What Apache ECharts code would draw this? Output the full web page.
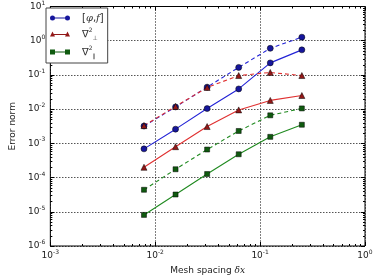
<!DOCTYPE html>
<html>
<head>
<meta charset="utf-8">
<script src="https://cdn.jsdelivr.net/npm/echarts@6/dist/echarts.min.js"></script>
<style>
    html, body { margin: 0; padding: 0; background: #fff; }
    #chart { width: 376px; height: 280px; }
</style>
</head>
<body>
<div id="chart"></div>
<script>
// mesh spacing (x) and error norms
const meshSpacing = [0.0078125, 0.015625, 0.03125, 0.0625, 0.125, 0.25];
const phiSolid = [6.9e-4, 2.6e-3, 1.04e-2, 0.039, 0.225, 0.54];
const phiDashed = [3.2e-3, 0.0116, 0.044, 0.166, 0.60, 1.27];
const perpSolid = [2.0e-4, 8.0e-4, 3.1e-3, 9.5e-3, 0.018, 0.025];
const perpDashed = [3.3e-3, 0.012, 0.043, 0.096, 0.118, 0.096];
const parSolid = [8.1e-6, 3.2e-5, 1.27e-4, 4.8e-4, 1.55e-3, 3.5e-3];
const parDashed = [4.4e-5, 1.75e-4, 6.6e-4, 2.3e-3, 6.6e-3, 0.0105];

const xMin = 1e-3, xMax = 1;
const yMin = 1e-6, yMax = 10;

const legendLabels = {
    phi: '{t|[}{i|φ}{t|,}{i|f}{t|]}',
    perp: '{t|∇}{sup|2}{sub|⊥}',
    par: '{t|∇}{sup|2}{sub|∥}'
};

const pairs = (ys) => meshSpacing.map((x, i) => [x, ys[i]]);

// minor tick positions (2..9 per decade)
const minorBetween = (lo, hi) => {
    const out = [];
    for (let d = lo; d < hi; d *= 10) {
        for (let k = 2; k <= 9; k++) out.push(+(k * d).toPrecision(3));
    }
    return out;
};
const xMinor = minorBetween(xMin, xMax).map(v => [v, yMin]);
const yMinor = minorBetween(yMin, yMax).map(v => [xMin, v]);

const FONT = 'DejaVu Sans';

const tickLabel = (value) => {
    const e = Math.round(Math.log10(value));
    return '{b|10}{s|' + e + '}';
};
const tickRich = {
    b: { fontSize: 9, lineHeight: 13, fontFamily: FONT, color: '#222' },
    s: { fontSize: 6, lineHeight: 13, verticalAlign: 'top', fontFamily: FONT, color: '#222' }
};

const colors = {
    phiLine: '#2222d6', phiMark: '#16169c',
    perpLine: '#e03030', perpMark: '#921818',
    parLine: '#208a20', parMark: '#0f5a0f'
};

const lineSeries = (name, ys, lineColor, markColor, symbol, size, dashed) => ({
    name: name,
    type: 'line',
    data: pairs(ys),
    symbol: symbol,
    symbolSize: size,
    showSymbol: true,
    z: 3,
    lineStyle: { color: lineColor, width: 1.1, type: dashed ? [4, 3] : 'solid' },
    itemStyle: { color: markColor, borderColor: '#000', borderWidth: 0.5 },
    emphasis: { disabled: true },
    animation: false
});

const minorTicks = (axis) => (params, api) => {
    const cs = params.coordSys;
    const p = api.coord([api.value(0), api.value(1)]);
    const st = { stroke: '#000', lineWidth: 1 };
    if (axis === 'x') {
        const x = Math.round(p[0]) + 0.5;
        return { type: 'group', children: [
            { type: 'line', shape: { x1: x, y1: cs.y + cs.height, x2: x, y2: cs.y + cs.height - 2 }, style: st },
            { type: 'line', shape: { x1: x, y1: cs.y, x2: x, y2: cs.y + 2 }, style: st }
        ] };
    }
    const y = Math.round(p[1]) + 0.5;
    return { type: 'group', children: [
        { type: 'line', shape: { x1: cs.x, y1: y, x2: cs.x + 2, y2: y }, style: st },
        { type: 'line', shape: { x1: cs.x + cs.width, y1: y, x2: cs.x + cs.width - 2, y2: y }, style: st }
    ] };
};

const legendItem = (name, icon, color) => ({
    name: name,
    icon: icon,
    itemStyle: { color: color, borderWidth: 0, borderColor: color },
    lineStyle: { width: 0 }
});

const chart = echarts.init(document.getElementById('chart'));

chart.setOption({
    animation: false,
    backgroundColor: '#fff',
    textStyle: { fontFamily: FONT },
    grid: {
        left: 42, right: 11, top: 3, bottom: 26,
        show: true, borderColor: '#000', borderWidth: 1, backgroundColor: 'transparent'
    },
    legend: {
        orient: 'vertical',
        left: 46, top: 8,
        padding: [5, 4, 4, 4],
        itemGap: 4,
        itemWidth: 20, itemHeight: 5,
        borderColor: '#444', borderWidth: 1,
        backgroundColor: '#fff',
        selectedMode: false,
        data: [
            legendItem('phi', 'path://M0,2.5A2.5,2.5,0,1,1,5,2.5A2.5,2.5,0,1,1,0,2.5Z M2.5,2.1H17.5V2.9H2.5Z M15,2.5A2.5,2.5,0,1,1,20,2.5A2.5,2.5,0,1,1,15,2.5Z', colors.phiMark),
            legendItem('perp', 'path://M0,5L2.5,0L5,5Z M2.5,2.6H17.5V3.4H2.5Z M15,5L17.5,0L20,5Z', colors.perpMark),
            legendItem('par', 'path://M0,0H5V5H0Z M2.5,2.1H17.5V2.9H2.5Z M15,0H20V5H15Z', colors.parMark)
        ],
        formatter: (name) => legendLabels[name],
        textStyle: {
            padding: [0, 0, 0, 7],
            rich: {
                t: { fontSize: 10, lineHeight: 14, fontFamily: FONT, color: '#333' },
                i: { fontSize: 10, lineHeight: 14, fontStyle: 'italic', fontFamily: 'DejaVu Serif', color: '#333' },
                sup: { fontSize: 6, lineHeight: 14, verticalAlign: 'top', fontFamily: FONT, color: '#333' },
                sub: { fontSize: 6, lineHeight: 14, verticalAlign: 'bottom', fontFamily: FONT, color: '#333' }
            }
        }
    },
    xAxis: [
        {
            type: 'log', logBase: 10, min: xMin, max: xMax, interval: 1,
            position: 'bottom',
            name: 'Mesh spacing {i|δx}',
            nameLocation: 'middle', nameGap: 20,
            nameTextStyle: {
                fontSize: 9, fontFamily: FONT, color: '#222',
                rich: { i: { fontSize: 9, fontStyle: 'italic', fontFamily: 'DejaVu Serif', color: '#222' } }
            },
            axisLine: { show: false },
            axisTick: { inside: true, length: 4, lineStyle: { color: '#000' } },
            axisLabel: { margin: 3, formatter: tickLabel, rich: tickRich },
            splitLine: { show: true, lineStyle: { color: '#000', type: [1, 2], width: 1 } }
        },
        {
            type: 'log', logBase: 10, min: xMin, max: xMax, interval: 1,
            position: 'top',
            axisLine: { show: false },
            axisTick: { inside: true, length: 4, lineStyle: { color: '#000' } },
            axisLabel: { show: false },
            splitLine: { show: false }
        }
    ],
    yAxis: [
        {
            type: 'log', logBase: 10, min: yMin, max: yMax, interval: 1,
            position: 'left',
            name: 'Error norm',
            nameLocation: 'middle', nameGap: 30,
            nameTextStyle: { fontSize: 9, fontFamily: FONT, color: '#222' },
            axisLine: { show: false },
            axisTick: { inside: true, length: 4, lineStyle: { color: '#000' } },
            axisLabel: { margin: 5, formatter: tickLabel, rich: tickRich },
            splitLine: { show: true, lineStyle: { color: '#000', type: [1, 2], width: 1 } }
        },
        {
            type: 'log', logBase: 10, min: yMin, max: yMax, interval: 1,
            position: 'right',
            axisLine: { show: false },
            axisTick: { inside: true, length: 4, lineStyle: { color: '#000' } },
            axisLabel: { show: false },
            splitLine: { show: false }
        }
    ],
    series: [
        lineSeries('phi', phiSolid, colors.phiLine, colors.phiMark, 'circle', 6, false),
        lineSeries('phi dashed', phiDashed, colors.phiLine, colors.phiMark, 'circle', 6, true),
        lineSeries('perp', perpSolid, colors.perpLine, colors.perpMark, 'triangle', 6, false),
        lineSeries('perp dashed', perpDashed, colors.perpLine, colors.perpMark, 'triangle', 6, true),
        lineSeries('par', parSolid, colors.parLine, colors.parMark, 'rect', 5, false),
        lineSeries('par dashed', parDashed, colors.parLine, colors.parMark, 'rect', 5, true),
        { type: 'custom', data: xMinor, renderItem: minorTicks('x'), silent: true, z: 1, clip: false },
        { type: 'custom', data: yMinor, renderItem: minorTicks('y'), silent: true, z: 1, clip: false }
    ]
});
</script>
</body>
</html>
